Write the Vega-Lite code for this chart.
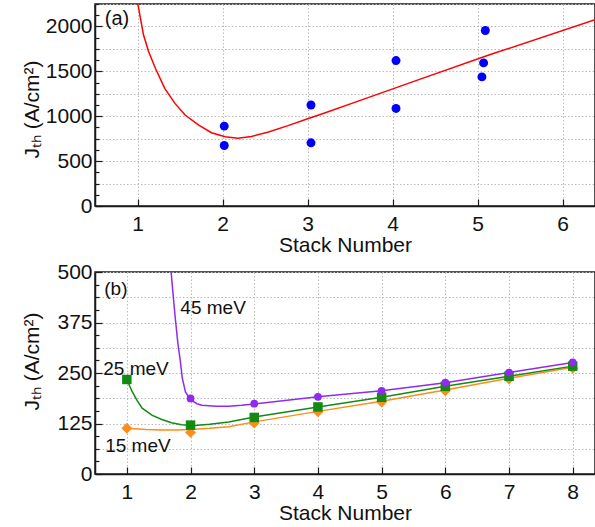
{
  "$schema": "https://vega.github.io/schema/vega-lite/v6.json",
  "padding": {"left": 20, "top": 2, "right": 0, "bottom": 0},
  "spacing": 4,
  "config": {
    "font": "Liberation Sans",
    "view": {"stroke": "#1a1a1a", "strokeWidth": 1.5},
    "axis": {
      "domainColor": "#1a1a1a", "domainWidth": 1.5,
      "tickColor": "#1a1a1a", "tickWidth": 1.2,
      "labelColor": "#111", "titleColor": "#111",
      "labelFontSize": 21, "titleFontSize": 21, "titleFontWeight": "normal",
      "gridColor": "#bbbbbb", "gridDash": [1.5, 2], "gridWidth": 1
    }
  },
  "datasets": {
    "topPoints": [
      {"stack": 2.02, "jth": 890}, {"stack": 2.02, "jth": 674},
      {"stack": 3.04, "jth": 1125}, {"stack": 3.04, "jth": 704},
      {"stack": 4.04, "jth": 1620}, {"stack": 4.04, "jth": 1087},
      {"stack": 5.09, "jth": 1955}, {"stack": 5.07, "jth": 1594}, {"stack": 5.05, "jth": 1438}
    ],
    "redCurve": [
      {"stack": 1.0, "jth": 2270}, {"stack": 1.07, "jth": 1907}, {"stack": 1.13, "jth": 1721},
      {"stack": 1.21, "jth": 1534}, {"stack": 1.32, "jth": 1311}, {"stack": 1.44, "jth": 1143},
      {"stack": 1.56, "jth": 1013}, {"stack": 1.72, "jth": 902}, {"stack": 1.87, "jth": 816},
      {"stack": 2.03, "jth": 771}, {"stack": 2.18, "jth": 756}, {"stack": 2.34, "jth": 775},
      {"stack": 2.54, "jth": 825}, {"stack": 2.77, "jth": 895}, {"stack": 3.01, "jth": 975},
      {"stack": 3.2, "jth": 1035}, {"stack": 3.57, "jth": 1160}, {"stack": 4.35, "jth": 1422},
      {"stack": 5.14, "jth": 1684}, {"stack": 6.38, "jth": 2075}
    ],
    "topLabel": [{"stack": 0.615, "jth": 2078, "label": "(a)"}],
    "curves": [
      {"series": "15 meV", "stack": 1.0, "jth": 113}, {"series": "15 meV", "stack": 1.3, "jth": 110},
      {"series": "15 meV", "stack": 1.55, "jth": 109}, {"series": "15 meV", "stack": 1.8, "jth": 109},
      {"series": "15 meV", "stack": 2.07, "jth": 111}, {"series": "15 meV", "stack": 2.3, "jth": 113},
      {"series": "15 meV", "stack": 2.6, "jth": 117}, {"series": "15 meV", "stack": 3.0, "jth": 129},
      {"series": "15 meV", "stack": 4.0, "jth": 155}, {"series": "15 meV", "stack": 5.0, "jth": 180},
      {"series": "15 meV", "stack": 6.0, "jth": 208}, {"series": "15 meV", "stack": 7.0, "jth": 237},
      {"series": "15 meV", "stack": 8.0, "jth": 264},
      {"series": "25 meV", "stack": 1.0, "jth": 234}, {"series": "25 meV", "stack": 1.08, "jth": 205},
      {"series": "25 meV", "stack": 1.16, "jth": 182}, {"series": "25 meV", "stack": 1.24, "jth": 163},
      {"series": "25 meV", "stack": 1.4, "jth": 145}, {"series": "25 meV", "stack": 1.55, "jth": 135},
      {"series": "25 meV", "stack": 1.7, "jth": 127}, {"series": "25 meV", "stack": 1.86, "jth": 122},
      {"series": "25 meV", "stack": 2.07, "jth": 120}, {"series": "25 meV", "stack": 2.3, "jth": 123},
      {"series": "25 meV", "stack": 2.6, "jth": 129}, {"series": "25 meV", "stack": 3.0, "jth": 141},
      {"series": "25 meV", "stack": 4.0, "jth": 166}, {"series": "25 meV", "stack": 5.0, "jth": 190},
      {"series": "25 meV", "stack": 6.0, "jth": 217}, {"series": "25 meV", "stack": 7.0, "jth": 242},
      {"series": "25 meV", "stack": 8.0, "jth": 267},
      {"series": "45 meV", "stack": 1.695, "jth": 500}, {"series": "45 meV", "stack": 1.72, "jth": 455},
      {"series": "45 meV", "stack": 1.76, "jth": 386}, {"series": "45 meV", "stack": 1.8, "jth": 325},
      {"series": "45 meV", "stack": 1.84, "jth": 279}, {"series": "45 meV", "stack": 1.87, "jth": 238},
      {"series": "45 meV", "stack": 1.92, "jth": 203}, {"series": "45 meV", "stack": 2.0, "jth": 184},
      {"series": "45 meV", "stack": 2.1, "jth": 174}, {"series": "45 meV", "stack": 2.18, "jth": 170},
      {"series": "45 meV", "stack": 2.4, "jth": 168}, {"series": "45 meV", "stack": 2.6, "jth": 168},
      {"series": "45 meV", "stack": 2.8, "jth": 170}, {"series": "45 meV", "stack": 3.0, "jth": 173},
      {"series": "45 meV", "stack": 4.0, "jth": 191}, {"series": "45 meV", "stack": 5.0, "jth": 206},
      {"series": "45 meV", "stack": 6.0, "jth": 226}, {"series": "45 meV", "stack": 7.0, "jth": 251},
      {"series": "45 meV", "stack": 8.0, "jth": 276}
    ],
    "markers": [
      {"series": "15 meV", "stack": 1, "jth": 113}, {"series": "15 meV", "stack": 2, "jth": 103},
      {"series": "15 meV", "stack": 3, "jth": 126}, {"series": "15 meV", "stack": 4, "jth": 154},
      {"series": "15 meV", "stack": 5, "jth": 178}, {"series": "15 meV", "stack": 6, "jth": 206},
      {"series": "15 meV", "stack": 7, "jth": 235}, {"series": "15 meV", "stack": 8, "jth": 262},
      {"series": "25 meV", "stack": 1, "jth": 234}, {"series": "25 meV", "stack": 2, "jth": 121},
      {"series": "25 meV", "stack": 3, "jth": 140}, {"series": "25 meV", "stack": 4, "jth": 166},
      {"series": "25 meV", "stack": 5, "jth": 190}, {"series": "25 meV", "stack": 6, "jth": 217},
      {"series": "25 meV", "stack": 7, "jth": 242}, {"series": "25 meV", "stack": 8, "jth": 267},
      {"series": "45 meV", "stack": 2, "jth": 187}, {"series": "45 meV", "stack": 3, "jth": 174},
      {"series": "45 meV", "stack": 4, "jth": 191}, {"series": "45 meV", "stack": 5, "jth": 206},
      {"series": "45 meV", "stack": 6, "jth": 226}, {"series": "45 meV", "stack": 7, "jth": 251},
      {"series": "45 meV", "stack": 8, "jth": 276}
    ],
    "bottomLabels": [
      {"stack": 1.84, "jth": 411, "label": "45 meV"},
      {"stack": 0.63, "jth": 259, "label": "25 meV"},
      {"stack": 0.66, "jth": 69, "label": "15 meV"},
      {"stack": 0.645, "jth": 457, "label": "(b)"}
    ]
  },
  "vconcat": [
    {
      "width": 500,
      "height": 202,
      "encoding": {
        "x": {
          "field": "stack", "type": "quantitative",
          "scale": {"domain": [0.5, 6.38], "nice": false, "zero": false},
          "axis": {
            "title": "Stack Number",
            "format": "d",
            "values": [1, 1.5, 2, 2.5, 3, 3.5, 4, 4.5, 5, 5.5, 6],
            "labelExpr": "datum.value % 1 === 0 ? datum.label : ''",
            "tickSize": {"condition": {"test": "datum.value % 1 === 0", "value": -7}, "value": -4},
            "labelPadding": 14, "titlePadding": 0, "grid": true
          }
        },
        "y": {
          "field": "jth", "type": "quantitative",
          "scale": {"domain": [0, 2250], "nice": false},
          "axis": {
            "title": "Jₜₕ (A/cm²)",
            "format": "d",
            "values": [0, 125, 250, 375, 500, 625, 750, 875, 1000, 1125, 1250, 1375, 1500, 1625, 1750, 1875, 2000, 2125, 2250],
            "labelExpr": "datum.value % 500 === 0 ? datum.label : ''",
            "tickSize": {"condition": {"test": "datum.value % 500 === 0", "value": -7}, "value": -4},
            "gridOpacity": {"condition": {"test": "datum.value % 250 === 0", "value": 1}, "value": 0},
            "labelPadding": 10, "titleX": -53, "titleY": 105, "grid": true
          }
        }
      },
      "layer": [
        {"data": {"name": "redCurve"}, "mark": {"type": "line", "color": "#ff0000", "strokeWidth": 1.5, "clip": true}},
        {"data": {"name": "topPoints"}, "mark": {"type": "circle", "color": "#0000ff", "opacity": 1, "size": 80}},
        {"data": {"name": "topLabel"}, "mark": {"type": "text", "align": "left", "baseline": "middle", "fontSize": 20, "color": "#111"}, "encoding": {"text": {"field": "label"}}}
      ]
    },
    {
      "width": 500,
      "height": 202,
      "encoding": {
        "x": {
          "field": "stack", "type": "quantitative",
          "scale": {"domain": [0.5, 8.35], "nice": false, "zero": false},
          "axis": {
            "title": "Stack Number",
            "format": "d",
            "values": [1, 1.5, 2, 2.5, 3, 3.5, 4, 4.5, 5, 5.5, 6, 6.5, 7, 7.5, 8],
            "labelExpr": "datum.value % 1 === 0 ? datum.label : ''",
            "tickSize": {"condition": {"test": "datum.value % 1 === 0", "value": -7}, "value": -4},
            "labelPadding": 14, "titlePadding": 0, "grid": true
          }
        },
        "y": {
          "field": "jth", "type": "quantitative",
          "scale": {"domain": [0, 500], "nice": false},
          "axis": {
            "title": "Jₜₕ (A/cm²)",
            "format": "d",
            "values": [0, 31.25, 62.5, 93.75, 125, 156.25, 187.5, 218.75, 250, 281.25, 312.5, 343.75, 375, 406.25, 437.5, 468.75, 500],
            "labelExpr": "datum.value % 125 === 0 ? datum.label : ''",
            "tickSize": {"condition": {"test": "datum.value % 125 === 0", "value": -7}, "value": -4},
            "gridOpacity": {"condition": {"test": "datum.value % 62.5 === 0", "value": 1}, "value": 0},
            "labelPadding": 10, "titleX": -53, "titleY": 89, "grid": true
          }
        }
      },
      "layer": [
        {
          "data": {"name": "curves"},
          "mark": {"type": "line", "strokeWidth": 1.5, "clip": true},
          "encoding": {
            "color": {"field": "series", "type": "nominal", "legend": null,
              "scale": {"domain": ["15 meV", "25 meV", "45 meV"], "range": ["#ff8c1a", "#138a13", "#8f2bf0"]}}
          }
        },
        {
          "data": {"name": "markers"},
          "mark": {"type": "point", "filled": true, "opacity": 1},
          "encoding": {
            "color": {"field": "series", "type": "nominal", "legend": null,
              "scale": {"domain": ["15 meV", "25 meV", "45 meV"], "range": ["#ff8c1a", "#138a13", "#8f2bf0"]}},
            "shape": {"field": "series", "type": "nominal", "legend": null,
              "scale": {"domain": ["15 meV", "25 meV", "45 meV"], "range": ["diamond", "square", "circle"]}},
            "size": {"field": "series", "type": "nominal", "legend": null,
              "scale": {"domain": ["15 meV", "25 meV", "45 meV"], "range": [120, 60, 85]}}
          }
        },
        {
          "data": {"name": "bottomLabels"},
          "mark": {"type": "text", "align": "left", "baseline": "middle", "fontSize": 19, "color": "#111"},
          "encoding": {"text": {"field": "label"}}
        }
      ]
    }
  ]
}
